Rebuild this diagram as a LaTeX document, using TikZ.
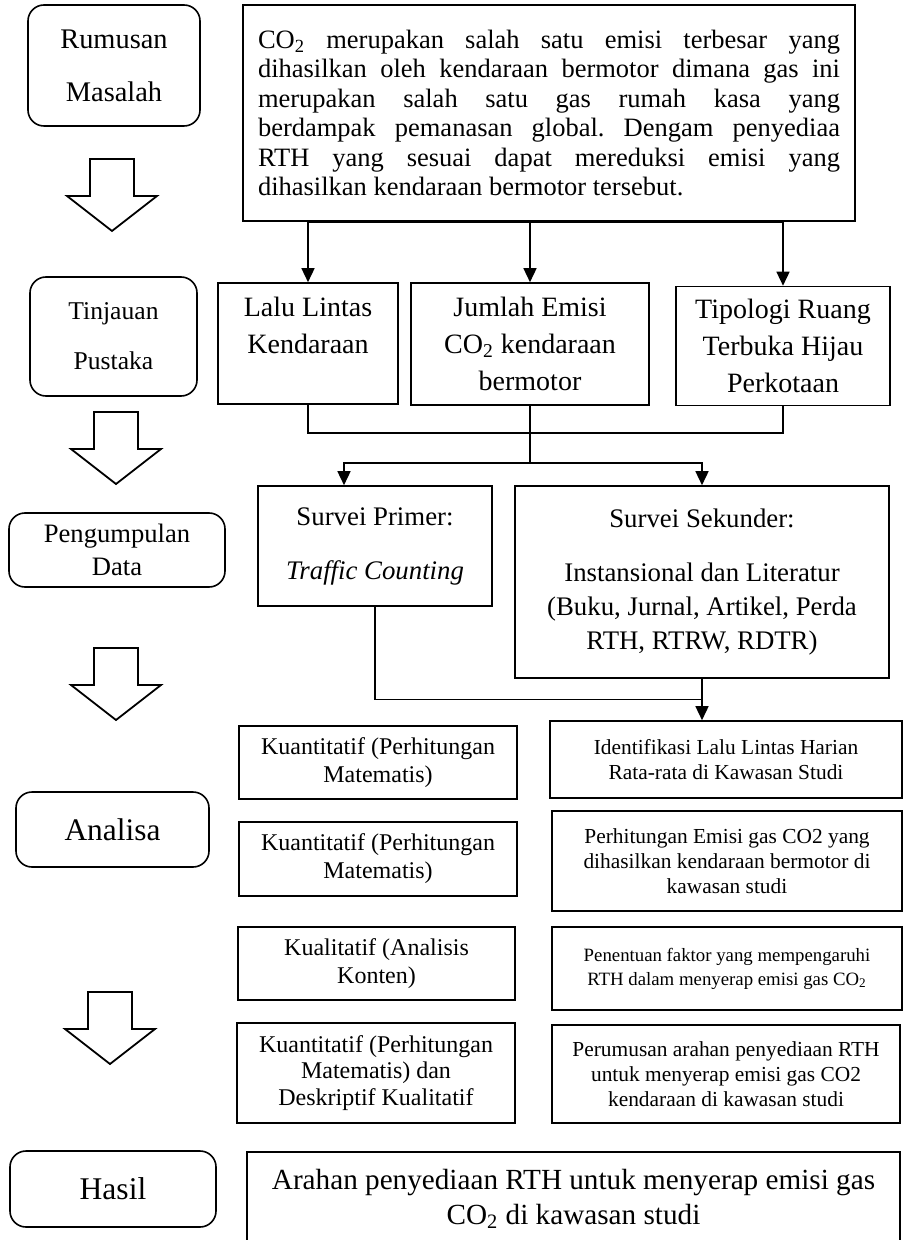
\documentclass[tikz,border=0pt]{standalone}
\usepackage{fontspec}
\setmainfont{Liberation Serif}
\usetikzlibrary{arrows.meta}
\frenchspacing

\begin{document}
\begin{tikzpicture}[
    x=0.5pt, y=-0.5pt,
    stage/.style={rectangle, draw, line width=0.8pt, rounded corners=8pt,
                  align=center, inner sep=2pt},
    box/.style={rectangle, draw, line width=0.8pt, align=center, inner sep=2pt},
    arrow/.style={-{Triangle[length=7pt,width=6.5pt]}, line width=0.75pt},
    link/.style={line width=0.75pt},
    bigarrow/.pic={\draw[line width=0.9pt, line join=miter]
        (-22,0) -- (22,0) -- (22,37) -- (45,37) -- (0,72) -- (-45,37) -- (-22,37) -- cycle;}
]
    \useasboundingbox (0,0) rectangle (906,1240);

    % stages on the left
    \node[stage, minimum width=86pt, minimum height=60.5pt, font=\fontsize{14.2}{26.5}\selectfont]
        (rumusan) at (114,65.5) {Rumusan\\Masalah};
    \node[stage, minimum width=83.5pt, minimum height=59.5pt, font=\fontsize{12.8}{25}\selectfont]
        (tinjauan) at (113.5,336.5) {Tinjauan\\Pustaka};
    \node[stage, minimum width=108pt, minimum height=37pt, font=\fontsize{13.3}{16.5}\selectfont]
        (pengumpulan) at (117,550) {Pengumpulan\\Data};
    \node[stage, minimum width=96.5pt, minimum height=37.5pt, font=\fontsize{15.7}{18}\selectfont]
        (analisa) at (112.5,829.5) {Analisa};
    \node[stage, minimum width=103pt, minimum height=38pt, font=\fontsize{15.8}{18}\selectfont]
        (hasil) at (113,1189) {Hasil};

    \pic at (112,159) {bigarrow};
    \pic at (116,412) {bigarrow};
    \pic at (116,648) {bigarrow};
    \pic at (110,992) {bigarrow};

    % problem statement
    \node[box, minimum width=306pt, minimum height=108pt, text width=291pt, align=justify,
          font=\fontsize{13.25}{14.75}\selectfont] (masalah) at (549,113)
        {CO\textsubscript{2} merupakan salah satu emisi terbesar yang\linebreak
         dihasilkan oleh kendaraan bermotor dimana gas ini\linebreak
         merupakan salah satu gas rumah kasa yang\linebreak
         berdampak pemanasan global. Dengam penyediaa\linebreak
         RTH yang sesuai dapat mereduksi emisi yang\linebreak
         dihasilkan kendaraan bermotor tersebut.};

    % literature
    \node[box, minimum width=90pt, minimum height=60.5pt, font=\fontsize{14}{18.3}\selectfont]
        (lalu) at (308,343.5) {Lalu Lintas\\Kendaraan\\\phantom{K}};
    \node[box, minimum width=119pt, minimum height=61pt, font=\fontsize{14}{18.3}\selectfont]
        (jumlah) at (530,344) {Jumlah Emisi\\CO\textsubscript{2} kendaraan\\bermotor};
    \node[box, minimum width=107pt, minimum height=59.5pt, font=\fontsize{14}{18.3}\selectfont]
        (tipologi) at (783,346) {Tipologi Ruang\\Terbuka Hijau\\Perkotaan};

    % data collection
    \node[box, minimum width=117pt, minimum height=60pt, font=\fontsize{13.4}{17}\selectfont]
        (primer) at (375,546) {Survei Primer:\\[10pt]\textit{Traffic Counting}};
    \node[box, minimum width=187pt, minimum height=96pt, font=\fontsize{13.4}{17}\selectfont]
        (sekunder) at (702,582) {Survei Sekunder:\\[10pt]Instansional dan Literatur\\(Buku, Jurnal, Artikel, Perda\\RTH, RTRW, RDTR)};

    % analysis methods
    \node[box, minimum width=139pt, minimum height=36.5pt, font=\fontsize{12}{14}\selectfont]
        (kuan1) at (378,762.5) {Kuantitatif (Perhitungan\\Matematis)};
    \node[box, minimum width=139pt, minimum height=37pt, font=\fontsize{12}{14}\selectfont]
        (kuan2) at (378,859) {Kuantitatif (Perhitungan\\Matematis)};
    \node[box, minimum width=138.5pt, minimum height=36.5pt, font=\fontsize{12}{14}\selectfont]
        (kuali) at (376.5,963.5) {Kualitatif (Analisis\\Konten)};
    \node[box, minimum width=139pt, minimum height=50pt, font=\fontsize{12}{13.3}\selectfont]
        (kuan3) at (376,1073) {Kuantitatif (Perhitungan\\Matematis) dan\\Deskriptif Kualitatif};

    % analysis steps
    \node[box, minimum width=176pt, minimum height=38.5pt, font=\fontsize{10.7}{12.5}\selectfont]
        (identifikasi) at (726,759.5) {Identifikasi Lalu Lintas Harian\\Rata-rata di Kawasan Studi};
    \node[box, minimum width=175pt, minimum height=50pt, font=\fontsize{10.7}{12.5}\selectfont]
        (hitung) at (727,861) {Perhitungan Emisi gas CO2 yang\\dihasilkan kendaraan bermotor di\\kawasan studi};
    \node[box, minimum width=175pt, minimum height=41.5pt, font=\fontsize{9.4}{12}\selectfont]
        (penentuan) at (727,968.5) {Penentuan faktor yang mempengaruhi\\RTH dalam menyerap emisi gas CO\textsubscript{2}};
    \node[box, minimum width=174pt, minimum height=49pt, font=\fontsize{10.7}{12.5}\selectfont]
        (perumusan) at (726,1074) {Perumusan arahan penyediaan RTH\\untuk menyerap emisi gas CO2\\kendaraan di kawasan studi};

    % result
    \node[box, minimum width=326.5pt, minimum height=47pt, font=\fontsize{14.6}{17.5}\selectfont]
        (arahan) at (573.5,1199) {Arahan penyediaan RTH untuk menyerap emisi gas\\CO\textsubscript{2} di kawasan studi};

    % connectors
    \draw[link] (masalah.south -| lalu.north) -- (masalah.south -| tipologi.north);
    \foreach \n in {lalu, jumlah, tipologi}
        \draw[arrow] (masalah.south -| \n.north) -- (\n.north);
    \draw[link] (lalu.south) -- ++(0,28) -| (tipologi.south);
    \draw[link] (jumlah.south) -- ++(0,57) coordinate (split);
    \draw[arrow] (split) -| ([xshift=-15.5pt]primer.north);
    \draw[arrow] (split) -| (sekunder.north);
    \draw[arrow] (sekunder.south) -- coordinate[pos=0.5] (merge) (sekunder.south |- identifikasi.north);
    \draw[link] (primer.south) |- (merge);
\end{tikzpicture}
\end{document}
